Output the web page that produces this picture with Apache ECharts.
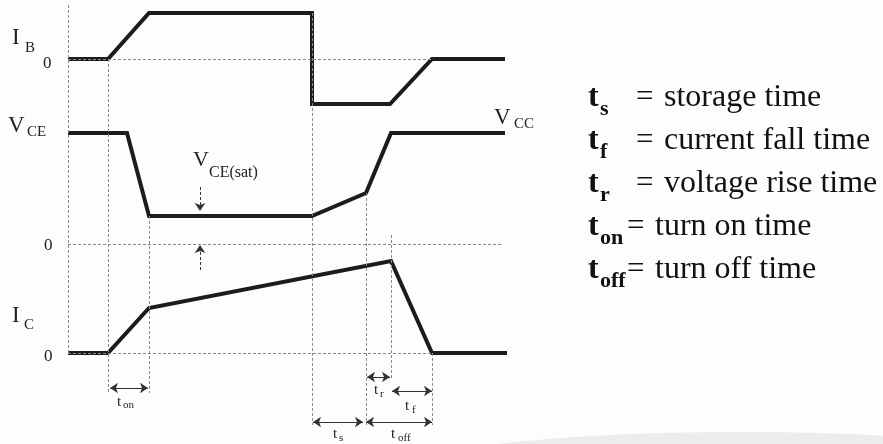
<!DOCTYPE html>
<html>
<head>
<meta charset="utf-8">
<script src="https://cdn.jsdelivr.net/npm/echarts@6/dist/echarts.min.js"></script>
<style>
  html, body { margin: 0; padding: 0; background: #fdfdfd; }
  #chart { width: 883px; height: 444px; }
</style>
</head>
<body>
<div id="chart"></div>
<script>
// waveforms (x = time, y = drawing level, downwards)
const ibTime = [68, 108, 149, 312, 312, 390, 432, 505];
const ibLevel = [59, 59, 13, 13, 104, 104, 59, 59];
const vceTime = [68, 127, 149, 312, 366, 391, 505];
const vceLevel = [133, 133, 216, 216, 193, 133, 133];
const icTime = [68, 108, 149, 391, 432, 507];
const icLevel = [353, 353, 308, 261, 353, 353];

// dotted helper lines
const zeroLevels = [59, 244, 353];
const zeroEnds = [432, 503, 432];
const markTimes = [68, 108, 149, 312, 366, 391, 432];
const markTop = [5, 59, 216, 13, 193, 235, 353];
const markBottom = [355, 393, 393, 425, 425, 380, 425];

// time spans with double arrows
const spanNames = ["t_on", "t_r", "t_f", "t_s", "t_off"];
const spanStart = [110, 367, 392, 313, 366];
const spanEnd = [148, 390, 432, 363, 432];
const spanLevel = [388, 377, 391, 422, 422];

// legend
const legendSub = ["s", "f", "r", "on", "off"];
const legendText = ["storage time", "current fall time", "voltage rise time", "turn on time", "turn off time"];

const serif = "'Liberation Serif', 'DejaVu Serif', serif";
const ink = "#1c1c1c";

let chart = echarts.init(document.getElementById("chart"));

function wave(name, xs, ys) {
  return {
    name: name,
    type: "line",
    data: xs.map((x, i) => [x, ys[i]]),
    showSymbol: false,
    silent: true,
    lineStyle: { color: ink, width: 4, join: "miter", cap: "butt" }
  };
}

// dotted guide segments
let guides = [];
zeroLevels.forEach((y, i) => {
  guides.push([{ coord: [68, y] }, { coord: [zeroEnds[i], y] }]);
});
markTimes.forEach((x, i) => {
  guides.push([{ coord: [x, markTop[i]] }, { coord: [x, markBottom[i]] }]);
});

// arrows
let spans = spanNames.map((n, i) => [{ coord: [spanStart[i], spanLevel[i]] }, { coord: [spanEnd[i], spanLevel[i]] }]);
let satArrows = [
  [{ coord: [200, 187] }, { coord: [200, 211] }],
  [{ coord: [200, 270] }, { coord: [200, 245] }]
];

// text helper
function txt(s, x, y, size, opts) {
  opts = opts || {};
  return {
    type: "text",
    x: x,
    y: y,
    silent: true,
    style: {
      text: s,
      font: (opts.bold ? "bold " : "") + size + "px " + serif,
      fill: opts.fill || "#222",
      align: opts.align || "left",
      textAlign: opts.align || "left",
      verticalAlign: "middle",
      textVerticalAlign: "middle"
    }
  };
}

let texts = [
  // signal names
  txt("I", 12, 38, 23), txt("B", 25, 48, 15), txt("0", 43, 64, 17),
  txt("V", 8, 126, 23), txt("CE", 27, 132, 15), txt("0", 44, 246, 17),
  txt("I", 12, 316, 23), txt("C", 24, 325, 15), txt("0", 44, 357, 17),
  txt("V", 494, 118, 23), txt("CC", 514, 124, 15),
  txt("V", 193, 160, 22), txt("CE(sat)", 209, 173, 16),
  // time spans
  txt("t", 117, 402, 15), txt("on", 123, 405, 11),
  txt("t", 374, 390, 15), txt("r", 380, 394, 11),
  txt("t", 405, 406, 15), txt("f", 412, 410, 11),
  txt("t", 333, 434, 15), txt("s", 339, 438, 11),
  txt("t", 391, 434, 15), txt("off", 398, 438, 11)
];
legendSub.forEach((s, i) => {
  let y = 98 + i * 43;
  let wide = s.length > 1;
  texts.push(txt("t", 588, y, 32, { bold: true, fill: "#111" }));
  texts.push(txt(s, 600, y + 11, 22, { bold: true, fill: "#111" }));
  texts.push(txt("=", wide ? 627 : 636, y, 31, { fill: "#111" }));
  texts.push(txt(legendText[i], wide ? 655 : 664, y, 32, { fill: "#111" }));
});

let option = {
  animation: false,
  backgroundColor: "#fdfdfd",
  grid: { left: 0, right: 0, top: 0, bottom: 0 },
  xAxis: { type: "value", min: 0, max: 883, show: false },
  yAxis: { type: "value", min: 0, max: 444, inverse: true, show: false },
  graphic: [
    {
      type: "ellipse",
      shape: { cx: 740, cy: 472, rx: 340, ry: 40 },
      silent: true,
      style: { fill: "#ececec" },
      z: -1
    }
  ].concat(texts),
  series: [
    {
      name: "guides",
      type: "line",
      data: [],
      silent: true,
      markLine: {
        silent: true,
        symbol: ["none", "none"],
        label: { show: false },
        lineStyle: { color: "#8a8a8a", width: 1, type: [3, 2] },
        data: guides
      }
    },
    {
      name: "spans",
      type: "line",
      data: [],
      silent: true,
      markLine: {
        silent: true,
        symbol: ["arrow", "arrow"],
        symbolSize: 8,
        label: { show: false },
        lineStyle: { color: "#333", width: 1, type: "solid" },
        data: spans
      }
    },
    {
      name: "sat",
      type: "line",
      data: [],
      silent: true,
      markLine: {
        silent: true,
        symbol: ["none", "arrow"],
        symbolSize: 8,
        label: { show: false },
        lineStyle: { color: "#333", width: 1, type: [3, 2] },
        data: satArrows
      }
    },
    wave("IB", ibTime, ibLevel),
    wave("VCE", vceTime, vceLevel),
    wave("IC", icTime, icLevel)
  ]
};

chart.setOption(option);
</script>
</body>
</html>
